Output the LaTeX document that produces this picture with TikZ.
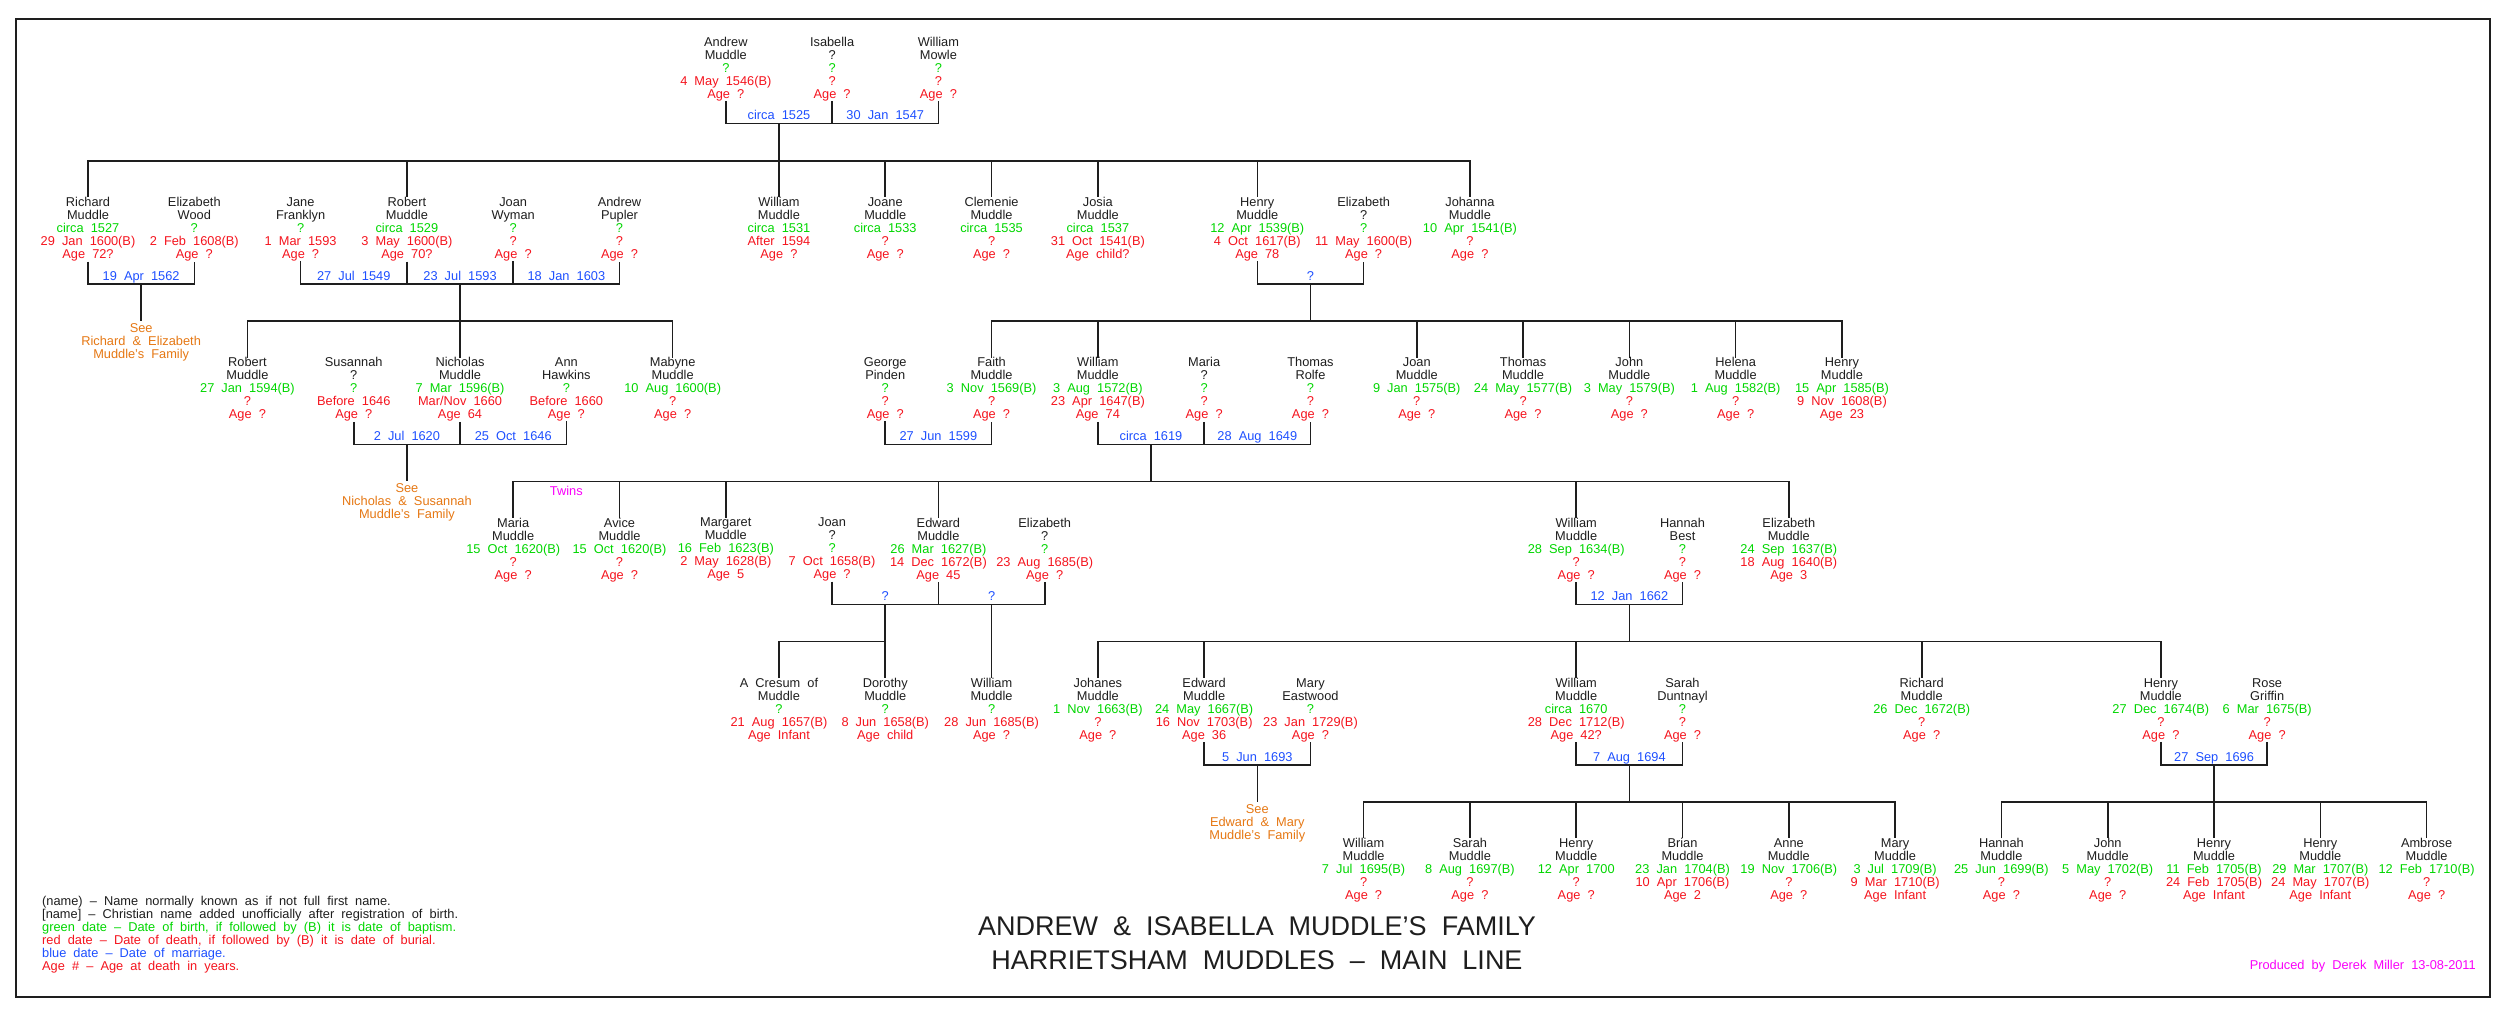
\documentclass[tikz,border=0pt]{standalone}
\usepackage{fontspec}
\setmainfont{Liberation Sans}[WordSpace=2]
\definecolor{grn}{RGB}{0,215,0}
\definecolor{rd}{RGB}{245,20,30}
\definecolor{bl}{RGB}{30,80,255}
\definecolor{org}{RGB}{230,120,20}
\definecolor{mag}{RGB}{250,0,250}
\definecolor{ink}{RGB}{30,30,30}
\newcommand\myfs{\fontsize{12.8}{13}\selectfont}
\newcommand\pers[8]{\node[person] (#1) at ({88+53.15*#2},#3) {#4\\#5\\\textcolor{grn}{#6}\\\textcolor{rd}{#7}\\\textcolor{rd}{#8}};}
\newcommand\mlabel[4]{\node[mlab] (#1) at ({88+53.15*#2},#3) {#4};}
\tikzset{
  person/.style={anchor=north, align=center, inner sep=0pt, font=\myfs, text=ink},
  mlab/.style={anchor=base, inner sep=0pt, font=\myfs, text=bl},
  seelab/.style={anchor=north, align=center, inner sep=0pt, font=\myfs, text=org},
  conn/.style={line width=1.6pt, draw=ink},
}
\begin{document}
\begin{tikzpicture}[x=1pt,y=-1pt]
\useasboundingbox (0,0) rectangle (2518,1014);
\fill[white] (0,0) rectangle (2518,1014);
\draw[line width=2.4pt, draw=ink] (16,19) rectangle (2490,997);

% level coordinates
\coordinate (mA) at (0,123.7); \coordinate (cA) at (0,160.7);
\coordinate (mB) at (0,284);   \coordinate (cB) at (0,321);
\coordinate (mC) at (0,444.3); \coordinate (cC) at (0,481.3);
\coordinate (mD) at (0,604.6); \coordinate (cD) at (0,641.6);
\coordinate (mE) at (0,764.9); \coordinate (cE) at (0,801.9);

% ---- Row A
\pers{andrew}{12}{36.9}{Andrew}{Muddle}{?}{4 May 1546(B)}{Age ?}
\pers{isabella}{14}{36.9}{Isabella}{?}{?}{?}{Age ?}
\pers{mowle}{16}{36.9}{William}{Mowle}{?}{?}{Age ?}
\mlabel{m1525}{13}{119.8}{circa 1525}
\mlabel{m1547}{15}{119.8}{30 Jan 1547}

% ---- Row B
\pers{richard}{0}{197.2}{Richard}{Muddle}{circa 1527}{29 Jan 1600(B)}{Age 72?}
\pers{ewood}{2}{197.2}{Elizabeth}{Wood}{?}{2 Feb 1608(B)}{Age ?}
\pers{jane}{4}{197.2}{Jane}{Franklyn}{?}{1 Mar 1593}{Age ?}
\pers{robert}{6}{197.2}{Robert}{Muddle}{circa 1529}{3 May 1600(B)}{Age 70?}
\pers{joanw}{8}{197.2}{Joan}{Wyman}{?}{?}{Age ?}
\pers{pupler}{10}{197.2}{Andrew}{Pupler}{?}{?}{Age ?}
\pers{williamB}{13}{197.2}{William}{Muddle}{circa 1531}{After 1594}{Age ?}
\pers{joane}{15}{197.2}{Joane}{Muddle}{circa 1533}{?}{Age ?}
\pers{clemenie}{17}{197.2}{Clemenie}{Muddle}{circa 1535}{?}{Age ?}
\pers{josia}{19}{197.2}{Josia}{Muddle}{circa 1537}{31 Oct 1541(B)}{Age child?}
\pers{henryB}{22}{197.2}{Henry}{Muddle}{12 Apr 1539(B)}{4 Oct 1617(B)}{Age 78}
\pers{elizB}{24}{197.2}{Elizabeth}{?}{?}{11 May 1600(B)}{Age ?}
\pers{johanna}{26}{197.2}{Johanna}{Muddle}{10 Apr 1541(B)}{?}{Age ?}
\mlabel{m1562}{1}{280.1}{19 Apr 1562}
\mlabel{m1549}{5}{280.1}{27 Jul 1549}
\mlabel{m1593}{7}{280.1}{23 Jul 1593}
\mlabel{m1603}{9}{280.1}{18 Jan 1603}
\mlabel{mHE}{23}{280.1}{?}
\node[seelab] (seeRE) at ({88+53.15*1},323.2) {See\\Richard \& Elizabeth\\Muddle's Family};

% ---- Row C
\pers{robertC}{3}{357.5}{Robert}{Muddle}{27 Jan 1594(B)}{?}{Age ?}
\pers{susannah}{5}{357.5}{Susannah}{?}{?}{Before 1646}{Age ?}
\pers{nicholas}{7}{357.5}{Nicholas}{Muddle}{7 Mar 1596(B)}{Mar/Nov 1660}{Age 64}
\pers{annh}{9}{357.5}{Ann}{Hawkins}{?}{Before 1660}{Age ?}
\pers{mabyne}{11}{357.5}{Mabyne}{Muddle}{10 Aug 1600(B)}{?}{Age ?}
\pers{george}{15}{357.5}{George}{Pinden}{?}{?}{Age ?}
\pers{faith}{17}{357.5}{Faith}{Muddle}{3 Nov 1569(B)}{?}{Age ?}
\pers{williamC}{19}{357.5}{William}{Muddle}{3 Aug 1572(B)}{23 Apr 1647(B)}{Age 74}
\pers{maria}{21}{357.5}{Maria}{?}{?}{?}{Age ?}
\pers{rolfe}{23}{357.5}{Thomas}{Rolfe}{?}{?}{Age ?}
\pers{joanC}{25}{357.5}{Joan}{Muddle}{9 Jan 1575(B)}{?}{Age ?}
\pers{thomasC}{27}{357.5}{Thomas}{Muddle}{24 May 1577(B)}{?}{Age ?}
\pers{johnC}{29}{357.5}{John}{Muddle}{3 May 1579(B)}{?}{Age ?}
\pers{helena}{31}{357.5}{Helena}{Muddle}{1 Aug 1582(B)}{?}{Age ?}
\pers{henryC}{33}{357.5}{Henry}{Muddle}{15 Apr 1585(B)}{9 Nov 1608(B)}{Age 23}
\mlabel{m1620}{6}{440.4}{2 Jul 1620}
\mlabel{m1646}{8}{440.4}{25 Oct 1646}
\mlabel{m1599}{16}{440.4}{27 Jun 1599}
\mlabel{m1619}{20}{440.4}{circa 1619}
\mlabel{m1649}{22}{440.4}{28 Aug 1649}
\node[seelab] (seeNS) at ({88+53.15*6},483.5) {See\\Nicholas \& Susannah\\Muddle's Family};

% ---- Row D
\pers{mariaD}{8}{517.8}{Maria}{Muddle}{15 Oct 1620(B)}{?}{Age ?}
\pers{avice}{10}{517.8}{Avice}{Muddle}{15 Oct 1620(B)}{?}{Age ?}
\pers{margaret}{12}{517.8}{Margaret}{Muddle}{16 Feb 1623(B)}{2 May 1628(B)}{Age 5}
\pers{joanD}{14}{517.8}{Joan}{?}{?}{7 Oct 1658(B)}{Age ?}
\pers{edwardD}{16}{517.8}{Edward}{Muddle}{26 Mar 1627(B)}{14 Dec 1672(B)}{Age 45}
\pers{elizD}{18}{517.8}{Elizabeth}{?}{?}{23 Aug 1685(B)}{Age ?}
\pers{williamD}{28}{517.8}{William}{Muddle}{28 Sep 1634(B)}{?}{Age ?}
\pers{hannah}{30}{517.8}{Hannah}{Best}{?}{?}{Age ?}
\pers{elizM}{32}{517.8}{Elizabeth}{Muddle}{24 Sep 1637(B)}{18 Aug 1640(B)}{Age 3}
\node[anchor=base, inner sep=0pt, font=\myfs, text=mag] (twins) at ({88+53.15*9},495.9) {Twins};
\mlabel{mJE}{15}{600.7}{?}
\mlabel{mEE}{17}{600.7}{?}
\mlabel{m1662}{29}{600.7}{12 Jan 1662}

% ---- Row E
\pers{cresum}{13}{678.1}{A Cresum of}{Muddle}{?}{21 Aug 1657(B)}{Age Infant}
\pers{dorothy}{15}{678.1}{Dorothy}{Muddle}{?}{8 Jun 1658(B)}{Age child}
\pers{williamEa}{17}{678.1}{William}{Muddle}{?}{28 Jun 1685(B)}{Age ?}
\pers{johanes}{19}{678.1}{Johanes}{Muddle}{1 Nov 1663(B)}{?}{Age ?}
\pers{edwardE}{21}{678.1}{Edward}{Muddle}{24 May 1667(B)}{16 Nov 1703(B)}{Age 36}
\pers{maryE}{23}{678.1}{Mary}{Eastwood}{?}{23 Jan 1729(B)}{Age ?}
\pers{williamE}{28}{678.1}{William}{Muddle}{circa 1670}{28 Dec 1712(B)}{Age 42?}
\pers{sarahD}{30}{678.1}{Sarah}{Duntnayl}{?}{?}{Age ?}
\pers{richardE}{34.5}{678.1}{Richard}{Muddle}{26 Dec 1672(B)}{?}{Age ?}
\pers{henryE}{39}{678.1}{Henry}{Muddle}{27 Dec 1674(B)}{?}{Age ?}
\pers{rose}{41}{678.1}{Rose}{Griffin}{6 Mar 1675(B)}{?}{Age ?}
\mlabel{m1693}{22}{761}{5 Jun 1693}
\mlabel{m1694}{29}{761}{7 Aug 1694}
\mlabel{m1696}{40}{761}{27 Sep 1696}
\node[seelab] (seeEM) at ({88+53.15*22},804.1) {See\\Edward \& Mary\\Muddle's Family};

% ---- Row F
\pers{fa}{24}{838.4}{William}{Muddle}{7 Jul 1695(B)}{?}{Age ?}
\pers{fb}{26}{838.4}{Sarah}{Muddle}{8 Aug 1697(B)}{?}{Age ?}
\pers{fc}{28}{838.4}{Henry}{Muddle}{12 Apr 1700}{?}{Age ?}
\pers{fd}{30}{838.4}{Brian}{Muddle}{23 Jan 1704(B)}{10 Apr 1706(B)}{Age 2}
\pers{fe}{32}{838.4}{Anne}{Muddle}{19 Nov 1706(B)}{?}{Age ?}
\pers{ff}{34}{838.4}{Mary}{Muddle}{3 Jul 1709(B)}{9 Mar 1710(B)}{Age Infant}
\pers{fg}{36}{838.4}{Hannah}{Muddle}{25 Jun 1699(B)}{?}{Age ?}
\pers{fh}{38}{838.4}{John}{Muddle}{5 May 1702(B)}{?}{Age ?}
\pers{fi}{40}{838.4}{Henry}{Muddle}{11 Feb 1705(B)}{24 Feb 1705(B)}{Age Infant}
\pers{fj}{42}{838.4}{Henry}{Muddle}{29 Mar 1707(B)}{24 May 1707(B)}{Age Infant}
\pers{fk}{44}{838.4}{Ambrose}{Muddle}{12 Feb 1710(B)}{?}{Age ?}

% ---- Legend, title, credit
\node[anchor=north west, align=left, inner sep=0pt, font=\myfs, text=ink] (legend) at (42,896.2)
 {(name) – Name normally known as if not full first name.\\
  \relax[name] – Christian name added unofficially after registration of birth.\\
  \textcolor{grn}{green date – Date of birth, if followed by (B) it is date of baptism.}\\
  \textcolor{rd}{red date – Date of death, if followed by (B) it is date of burial.}\\
  \textcolor{bl}{blue date – Date of marriage.}\\
  \textcolor{rd}{Age \# – Age at death in years.}};
\node[anchor=north, align=center, inner sep=0pt, font=\fontsize{27}{34}\selectfont, text=ink] (title) at (1257,916)
 {ANDREW \& ISABELLA MUDDLE'S FAMILY\\HARRIETSHAM MUDDLES – MAIN LINE};
\node[anchor=base east, inner sep=0pt, font=\myfs, text=mag] (credit) at (2476,969.6) {Produced by Derek Miller 13-08-2011};

% ---- Connectors, row A
\draw[conn] (andrew.south) -- (andrew |- mA) -- (mowle |- mA) -- (mowle.south);
\draw[conn] (isabella.south) -- (isabella |- mA);
\draw[conn] (m1525 |- mA) -- (m1525 |- cA);
\draw[conn] (richard.north) -- (richard |- cA) -- (johanna |- cA) -- (johanna.north);
\foreach \n in {robert,williamB,joane,clemenie,josia,henryB} \draw[conn] (\n |- cA) -- (\n.north);

% row B
\draw[conn] (richard.south) -- (richard |- mB) -- (ewood |- mB) -- (ewood.south);
\draw[conn] (m1562 |- mB) -- (seeRE |- cB);
\draw[conn] (jane.south) -- (jane |- mB) -- (pupler |- mB) -- (pupler.south);
\draw[conn] (robert.south) -- (robert |- mB);
\draw[conn] (joanw.south) -- (joanw |- mB);
\draw[conn] (m1593 |- mB) -- (m1593 |- cB);
\draw[conn] (henryB.south) -- (henryB |- mB) -- (elizB |- mB) -- (elizB.south);
\draw[conn] (mHE |- mB) -- (mHE |- cB);
\draw[conn] (robertC.north) -- (robertC |- cB) -- (mabyne |- cB) -- (mabyne.north);
\draw[conn] (nicholas |- cB) -- (nicholas.north);
\draw[conn] (faith.north) -- (faith |- cB) -- (henryC |- cB) -- (henryC.north);
\foreach \n in {williamC,joanC,thomasC,johnC,helena} \draw[conn] (\n |- cB) -- (\n.north);

% row C
\draw[conn] (susannah.south) -- (susannah |- mC) -- (annh |- mC) -- (annh.south);
\draw[conn] (nicholas.south) -- (nicholas |- mC);
\draw[conn] (m1620 |- mC) -- (seeNS |- cC);
\draw[conn] (george.south) -- (george |- mC) -- (faith |- mC) -- (faith.south);
\draw[conn] (williamC.south) -- (williamC |- mC) -- (rolfe |- mC) -- (rolfe.south);
\draw[conn] (maria.south) -- (maria |- mC);
\draw[conn] (m1619 |- mC) -- (m1619 |- cC);
\draw[conn] (mariaD.north) -- (mariaD |- cC) -- (elizM |- cC) -- (elizM.north);
\foreach \n in {avice,margaret,edwardD,williamD} \draw[conn] (\n |- cC) -- (\n.north);

% row D
\draw[conn] (joanD.south) -- (joanD |- mD) -- (elizD |- mD) -- (elizD.south);
\draw[conn] (edwardD.south) -- (edwardD |- mD);
\draw[conn] (mJE |- mD) -- (dorothy.north);
\draw[conn] (cresum.north) -- (cresum |- cD) -- (dorothy |- cD);
\draw[conn] (mEE |- mD) -- (williamEa.north);
\draw[conn] (williamD.south) -- (williamD |- mD) -- (hannah |- mD) -- (hannah.south);
\draw[conn] (m1662 |- mD) -- (m1662 |- cD);
\draw[conn] (johanes.north) -- (johanes |- cD) -- (henryE |- cD) -- (henryE.north);
\foreach \n in {edwardE,williamE,richardE} \draw[conn] (\n |- cD) -- (\n.north);

% row E
\draw[conn] (edwardE.south) -- (edwardE |- mE) -- (maryE |- mE) -- (maryE.south);
\draw[conn] (m1693 |- mE) -- (seeEM |- cE);
\draw[conn] (williamE.south) -- (williamE |- mE) -- (sarahD |- mE) -- (sarahD.south);
\draw[conn] (m1694 |- mE) -- (m1694 |- cE);
\draw[conn] (henryE.south) -- (henryE |- mE) -- (rose |- mE) -- (rose.south);
\draw[conn] (m1696 |- mE) -- (m1696 |- cE);
\draw[conn] (fa.north) -- (fa |- cE) -- (ff |- cE) -- (ff.north);
\foreach \n in {fb,fc,fd,fe} \draw[conn] (\n |- cE) -- (\n.north);
\draw[conn] (fg.north) -- (fg |- cE) -- (fk |- cE) -- (fk.north);
\foreach \n in {fh,fi,fj} \draw[conn] (\n |- cE) -- (\n.north);
\end{tikzpicture}
\end{document}
